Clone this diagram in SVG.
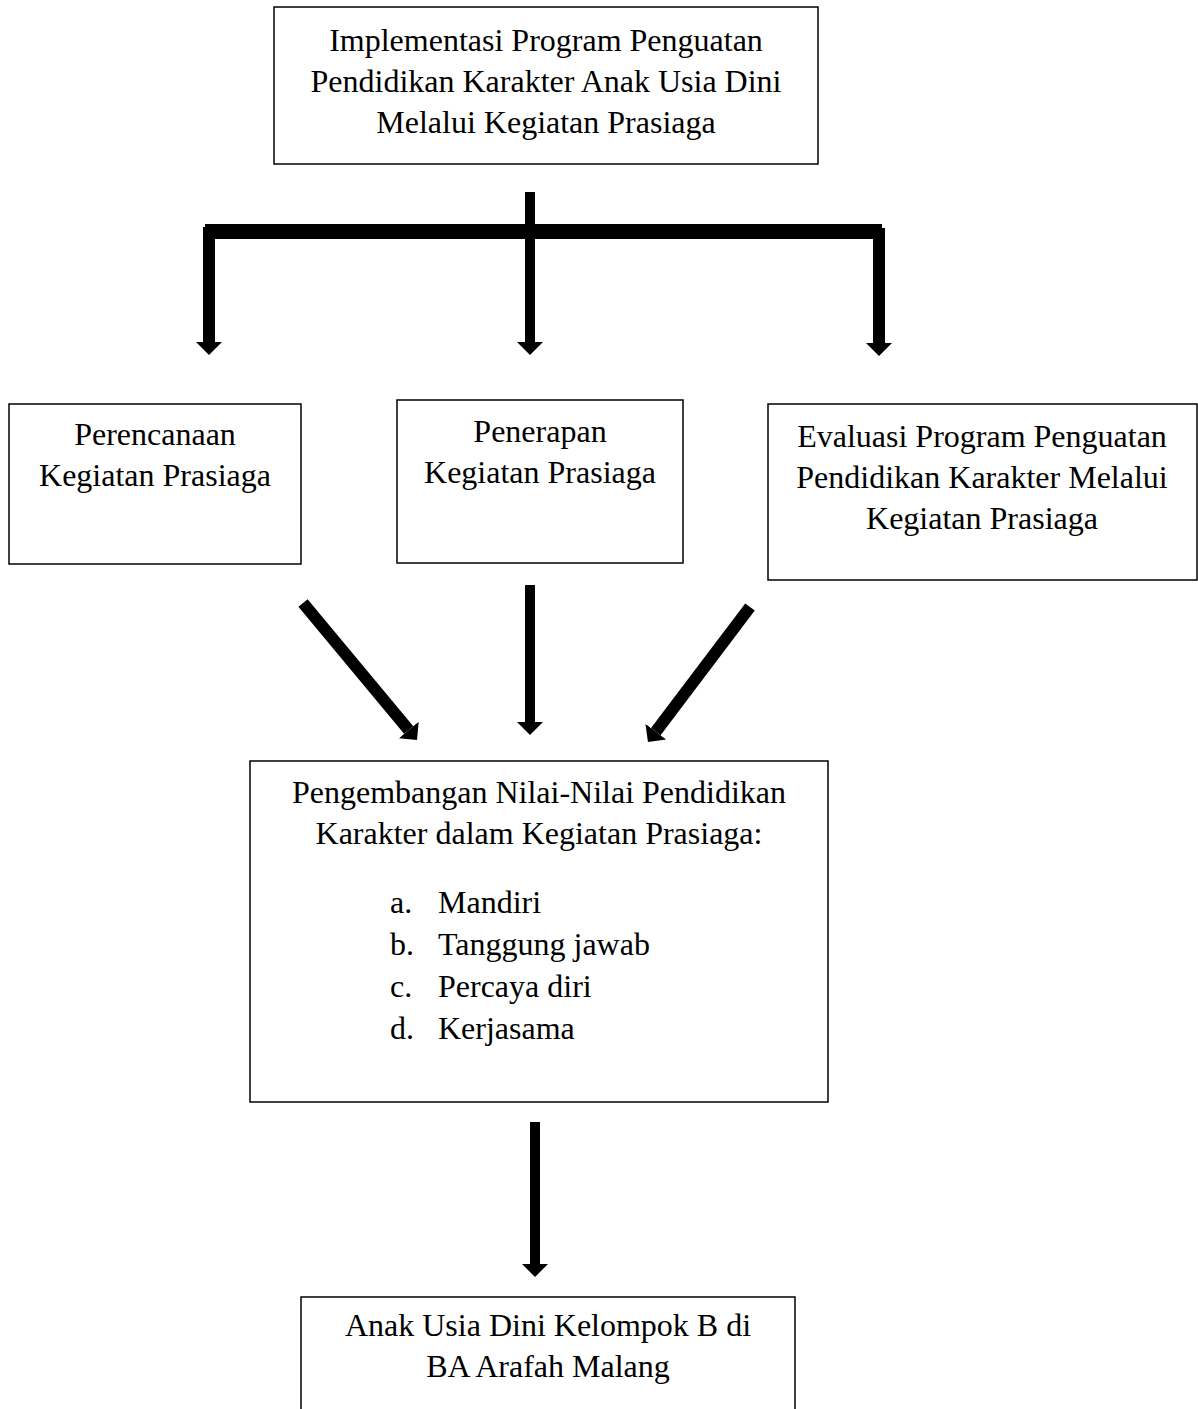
<svg xmlns="http://www.w3.org/2000/svg" width="1198" height="1409" viewBox="0 0 1198 1409">
<style>
.box{fill:#fff;stroke:#000;stroke-width:1.5}
.t{font-family:"Liberation Serif","Times New Roman",serif;font-size:32px;fill:#000}
.c{text-anchor:middle}
.sh{stroke:#000;stroke-width:12;fill:none;stroke-linecap:butt}
</style>
<defs>
<marker id="ah" markerUnits="userSpaceOnUse" markerWidth="14" markerHeight="28" refX="0" refY="13" orient="auto" viewBox="0 0 14 26">
<path d="M0,0 L13,13 L0,26 Z" fill="#000"/>
</marker>
</defs>
<rect width="1198" height="1409" fill="#fff"/>
<g id="connectors">
<line class="sh" x1="530" y1="192" x2="530" y2="342" marker-end="url(#ah)" style="stroke-width:10"/>
<rect x="205" y="224" width="677" height="15" fill="#000"/>
<line class="sh" x1="209" y1="227" x2="209" y2="342" marker-end="url(#ah)"/>
<line class="sh" x1="879" y1="228" x2="879" y2="343" marker-end="url(#ah)"/>
<line class="sh" x1="303" y1="603" x2="408.7" y2="730" marker-end="url(#ah)"/>
<line class="sh" x1="530" y1="585" x2="530" y2="722" marker-end="url(#ah)" style="stroke-width:10"/>
<line class="sh" x1="750" y1="607" x2="655.8" y2="731.6" marker-end="url(#ah)"/>
<line class="sh" x1="535" y1="1122" x2="535" y2="1264" marker-end="url(#ah)" style="stroke-width:10"/>
</g>
<g id="n-top">
<rect class="box" x="274" y="7" width="544" height="157"/>
<text class="t c" x="546" y="51">Implementasi Program Penguatan</text>
<text class="t c" x="546" y="92">Pendidikan Karakter Anak Usia Dini</text>
<text class="t c" x="546" y="133">Melalui Kegiatan Prasiaga</text>
</g>
<g id="n-perencanaan">
<rect class="box" x="9" y="404" width="292" height="160"/>
<text class="t c" x="155" y="445">Perencanaan</text>
<text class="t c" x="155" y="486">Kegiatan Prasiaga</text>
</g>
<g id="n-penerapan">
<rect class="box" x="397" y="400" width="286" height="163"/>
<text class="t c" x="540" y="442">Penerapan</text>
<text class="t c" x="540" y="483">Kegiatan Prasiaga</text>
</g>
<g id="n-evaluasi">
<rect class="box" x="768" y="404" width="429" height="176"/>
<text class="t c" x="982" y="447">Evaluasi Program Penguatan</text>
<text class="t c" x="982" y="488">Pendidikan Karakter Melalui</text>
<text class="t c" x="982" y="529">Kegiatan Prasiaga</text>
</g>
<g id="n-pengembangan">
<rect class="box" x="250" y="761" width="578" height="341"/>
<text class="t c" x="539" y="803">Pengembangan Nilai-Nilai Pendidikan</text>
<text class="t c" x="539" y="844">Karakter dalam Kegiatan Prasiaga:</text>
<text class="t" x="390" y="913">a.</text><text class="t" x="438" y="913">Mandiri</text>
<text class="t" x="390" y="955">b.</text><text class="t" x="438" y="955">Tanggung jawab</text>
<text class="t" x="390" y="997">c.</text><text class="t" x="438" y="997">Percaya diri</text>
<text class="t" x="390" y="1039">d.</text><text class="t" x="438" y="1039">Kerjasama</text>
</g>
<g id="n-anak">
<rect class="box" x="301" y="1297" width="494" height="130"/>
<text class="t c" x="548" y="1336">Anak Usia Dini Kelompok B di</text>
<text class="t c" x="548" y="1377">BA Arafah Malang</text>
</g>
</svg>
